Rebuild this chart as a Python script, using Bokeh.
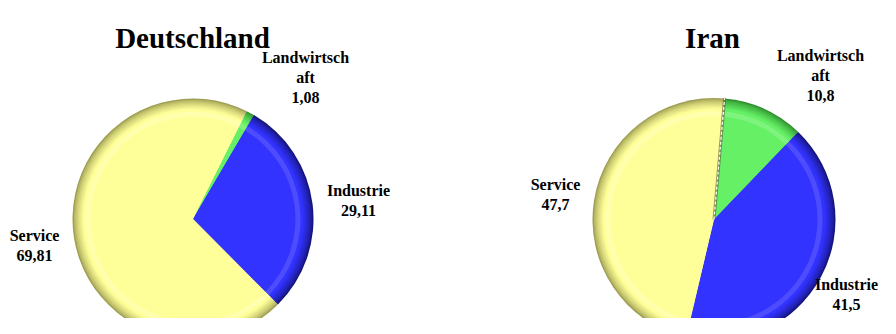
import math
from bokeh.plotting import figure
from bokeh.models import Range1d, ColumnDataSource
from bokeh.core.properties import value
from bokeh.embed import file_html
from bokeh.resources import INLINE

# ---- data ----
categories = ["Landwirtschaft", "Industrie", "Service"]
display_names = ["Landwirtsch\naft", "Industrie", "Service"]
de_values = [1.08, 29.11, 69.81]
ir_values = [10.8, 41.5, 47.7]
titles = ["Deutschland", "Iran"]

# ---- styles / layout ----
main_col = {"Landwirtschaft": "#66F066", "Industrie": "#3333FF", "Service": "#FFFF99"}
dark_col = {"Landwirtschaft": "#2E8F2E", "Industrie": "#14147A", "Service": "#9E9E52"}
light_col = {"Landwirtschaft": "#B5FFB5", "Industrie": "#8A8AFF", "Service": "#FFFFDD"}

W, H = 880, 318
IMG_H = 334


def Y(img_y):
    return IMG_H - img_y


pies = [
    dict(values=de_values, title=titles[0], cx=192.5, cy=218.5, r=120.5, offset_deg=26.5,
         title_x=192, label_pos=[(305, 77), (358, 200), (34, 245)], dashed=False),
    dict(values=ir_values, title=titles[1], cx=713.5, cy=219, r=121.5, offset_deg=5.0,
         title_x=712, label_pos=[(820, 75), (846, 294), (555, 194)], dashed=True),
]


def mix(c1, c2, t):
    a = [int(c1[i:i + 2], 16) for i in (1, 3, 5)]
    b = [int(c2[i:i + 2], 16) for i in (1, 3, 5)]
    return "#%02x%02x%02x" % tuple(round(a[j] + (b[j] - a[j]) * t) for j in range(3))


p = figure(width=W, height=H, output_backend="svg", toolbar_location=None,
           x_range=Range1d(0, W), y_range=Range1d(IMG_H - H, IMG_H),
           x_axis_type=None, y_axis_type=None, min_border=0)
p.outline_line_color = None
p.grid.visible = False
p.background_fill_color = "white"
p.border_fill_color = "white"

for pie in pies:
    vals = pie["values"]
    total = sum(vals)
    base = math.pi / 2 - math.radians(pie["offset_deg"])
    starts, ends = [], []
    cum = 0.0
    for v in vals:
        starts.append(base - cum / total * 2 * math.pi)
        cum += v
        ends.append(base - cum / total * 2 * math.pi)
    cx, cy, R = pie["cx"], Y(pie["cy"]), pie["r"]

    n = 9
    for k in range(n):
        t = k / (n - 1)
        r = R - k * 1.3
        src = ColumnDataSource(dict(
            x=[cx] * 3, y=[cy] * 3, start=starts, end=ends,
            color=[mix(dark_col[c], main_col[c], t ** 0.7) for c in categories]))
        p.wedge(x="x", y="y", radius=r, start_angle="start", end_angle="end",
                direction="clock", fill_color="color", line_color=None, source=src)
    # soft highlight band
    src = ColumnDataSource(dict(x=[cx] * 3, y=[cy] * 3, start=starts, end=ends,
                                color=[light_col[c] for c in categories]))
    p.annular_wedge(x="x", y="y", inner_radius=R - 18, outer_radius=R - 13,
                    start_angle="start", end_angle="end", direction="clock",
                    fill_color="color", fill_alpha=0.3, line_color=None, source=src)

    if pie["dashed"]:
        a = starts[0]
        p.segment(x0=[cx], y0=[cy], x1=[cx + R * math.cos(a)], y1=[cy + R * math.sin(a)],
                  line_color="#555533", line_width=3, line_alpha=0.6)
        p.segment(x0=[cx], y0=[cy], x1=[cx + R * math.cos(a)], y1=[cy + R * math.sin(a)],
                  line_color="white", line_width=1.2, line_dash="3 2")

    # labels
    texts = [f"{nm}\n{str(v).replace('.', ',')}" for nm, v in zip(display_names, vals)]
    lx = [lp[0] for lp in pie["label_pos"]]
    ly = [Y(lp[1]) for lp in pie["label_pos"]]
    p.text(x=lx, y=ly, text=texts, text_font=value("Liberation Serif"),
           text_font_style="bold", text_font_size="16px", text_align="center",
           text_baseline="middle", text_line_height=1.15, text_color="black")
    p.text(x=[pie["title_x"]], y=[Y(37)], text=[pie["title"]],
           text_font=value("Liberation Serif"), text_font_style="bold",
           text_font_size="29px", text_align="center", text_baseline="alphabetic",
           text_color="black")

open("out.html", "w").write(file_html(p, INLINE))
